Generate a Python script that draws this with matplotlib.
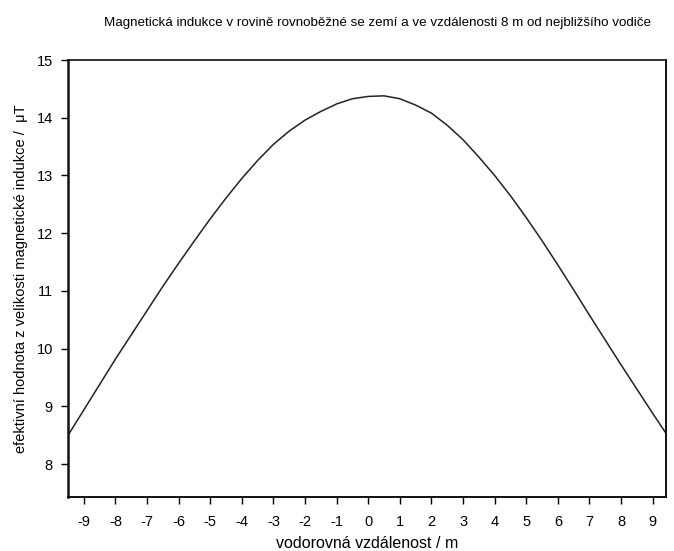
import matplotlib
matplotlib.use("Agg")
import matplotlib.pyplot as plt

plt.rcParams['font.family'] = ['Liberation Sans', 'DejaVu Sans']
plt.rcParams['axes.unicode_minus'] = False

# horizontal distance / m
distance = [-9.5, -9, -8.5, -8, -7.5, -7, -6.5, -6, -5.5, -5, -4.5, -4, -3.5, -3,
            -2.5, -2, -1.5, -1, -0.5, 0, 0.5, 1, 1.5, 2, 2.5, 3, 3.5, 4, 4.5,
            5, 5.5, 6, 6.5, 7, 7.5, 8, 8.5, 9, 9.5]
# RMS magnetic induction / uT
induction = [8.50, 8.94, 9.38, 9.82, 10.24, 10.66, 11.08, 11.48, 11.87, 12.25, 12.61, 12.95, 13.26, 13.54,
             13.77, 13.96, 14.11, 14.24, 14.33, 14.37, 14.38, 14.33, 14.22, 14.08, 13.87, 13.62, 13.32, 13.00, 12.65,
             12.27, 11.87, 11.45, 11.02, 10.58, 10.15, 9.72, 9.30, 8.88, 8.47]

x_ticks = list(range(-9, 10))
y_ticks = [8, 9, 10, 11, 12, 13, 14, 15]

title = "Magnetická indukce v rovině rovnoběžné se zemí a ve vzdálenosti 8 m od nejbližšího vodiče"
xlabel = "vodorovná vzdálenost / m"
ylabel = "efektivní hodnota z velikosti magnetické indukce /  μT"

fig = plt.figure(figsize=(6.74, 5.51), dpi=100)
ax = fig.add_axes([0.101, 0.098, 0.887, 0.793])

ax.plot(distance, induction, color="#222222", linewidth=1.1)

ax.set_xlim(-9.5, 9.42)
ax.set_ylim(7.43, 15)
ax.set_xticks(x_ticks)
ax.set_yticks(y_ticks)
ax.tick_params(axis='both', direction='out', length=5, width=1.0, labelsize=10.5, colors='black')
ax.tick_params(axis='x', pad=8)
ax.tick_params(axis='y', pad=6)

for side, lw in (('left', 1.8), ('bottom', 1.4), ('right', 1.4), ('top', 1.2)):
    ax.spines[side].set_linewidth(lw)
    ax.spines[side].set_color('#111111')

ax.set_xlabel(xlabel, fontsize=11.5, labelpad=5)
ax.set_ylabel(ylabel, fontsize=10.5, labelpad=6)
fig.text(0.56, 0.958, title, ha='center', va='center', fontsize=9.6)

fig.savefig("out.png", dpi=100, facecolor='white')
